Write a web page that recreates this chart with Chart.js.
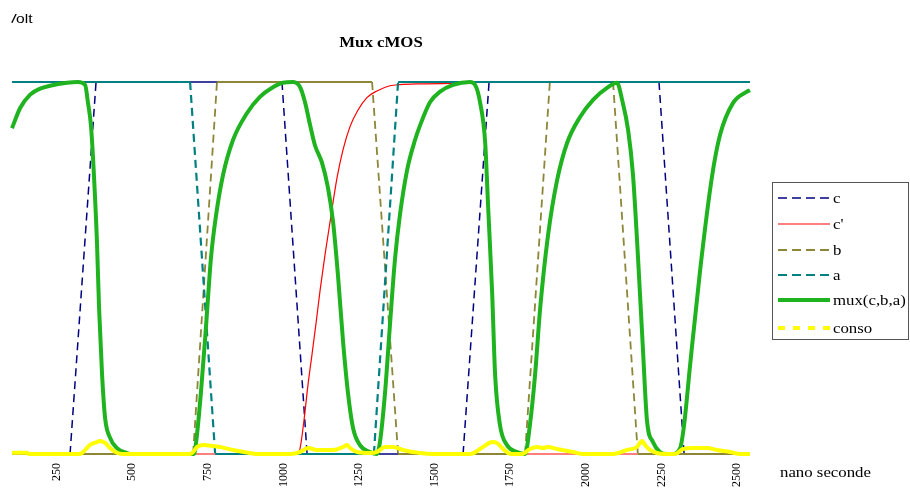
<!DOCTYPE html>
<html><head><meta charset="utf-8">
<script src="https://cdn.jsdelivr.net/npm/chart.js@4/dist/chart.umd.min.js"></script>
<style>html,body{margin:0;padding:0;background:#fff;}canvas{display:block;}</style>
</head><body>
<canvas id="chart" width="910" height="490"></canvas>
<script>
// ---- data (time in ns, value in volt) ----
const seriesNames = ["c", "c'", "b", "a", "mux(c,b,a)", "conso"];
const tickValues = [250, 500, 750, 1000, 1250, 1500, 1750, 2000, 2250, 2500];
const xMin = 102, xMax = 2543;

const cTime = [102, 294, 380, 995, 1078, 1594, 1680, 2242, 2325, 2543];
const cVolt = [0, 0, 5, 5, 0, 0, 5, 5, 0, 0];

const cpTime = [701, 1045, 1055, 1068, 1081, 1094, 1108, 1121, 1137, 1154, 1177, 1197, 1220, 1246, 1276, 1309, 1352, 1385, 1452, 1557, 1600, 1799, 2543];
const cpVolt = [0, 0, 0.08, 0.46, 0.93, 1.33, 1.77, 2.20, 2.67, 3.12, 3.71, 4.09, 4.40, 4.62, 4.79, 4.88, 4.95, 4.965, 4.975, 4.98, null, 0, 0];

const bTime = [102, 701, 780, 1293, 1379, 1799, 1881, 2090, 2172, 2543];
const bVolt = [0, 0, 5, 5, 0, 0, 5, 5, 0, 0];

const aTime = [102, 691, 774, 1299, 1379, 2543];
const aVolt = [5, 5, 0, 0, 5, 5];

const muxTime = [102, 129, 162, 195, 228, 284, 320, 344, 353, 363, 370, 383, 390, 400, 410, 426, 449, 482, 502,
  704, 711, 727, 744, 760, 777, 800, 833, 879, 922, 965, 998, 1032,
  1055, 1071, 1088, 1104, 1127, 1147, 1164, 1180, 1197, 1213, 1230, 1253, 1286, 1309,
  1319, 1336, 1352, 1369, 1385, 1409, 1435, 1452, 1485, 1518, 1561, 1617,
  1634, 1650, 1667, 1677, 1690, 1700, 1716, 1739, 1773, 1799,
  1815, 1832, 1849, 1875, 1905, 1938, 1981, 2024, 2070, 2103,
  2120, 2140, 2156, 2173, 2189, 2202, 2222, 2245, 2269,
  2285, 2312, 2325, 2345, 2378, 2417, 2444, 2487, 2533, 2543];
const muxVolt = [4.38, 4.65, 4.83, 4.91, 4.95, 4.99, 5.0, 4.96, 4.73, 4.42, 3.98, 2.85, 1.96, 1.06, 0.48, 0.22, 0.08, 0.013, 0,
  0, 0.16, 0.83, 1.73, 2.63, 3.21, 3.75, 4.22, 4.58, 4.80, 4.93, 4.99, 5.0,
  4.93, 4.73, 4.42, 4.15, 3.92, 3.58, 3.12, 2.41, 1.51, 0.83, 0.35, 0.12, 0.027, 0,
  0.16, 0.83, 1.73, 2.63, 3.21, 3.82, 4.22, 4.42, 4.73, 4.87, 4.96, 5.0,
  4.96, 4.73, 4.19, 3.31, 2.18, 1.06, 0.39, 0.12, 0.027, 0,
  0.39, 1.06, 1.96, 2.94, 3.68, 4.18, 4.53, 4.76, 4.92, 4.99,
  4.76, 4.35, 3.75, 2.61, 1.40, 0.46, 0.16, 0.027, 0,
  0, 0.08, 0.39, 1.20, 2.47, 3.72, 4.29, 4.72, 4.87, 4.89];

const consoTime = [102, 152, 158, 327, 337, 360, 383, 393, 410, 426, 449, 466,
  691, 698, 714, 734, 767, 790, 833, 889, 922,
  1022, 1055, 1081, 1111, 1164, 1197, 1210, 1220, 1243, 1286, 1309, 1336, 1362, 1395, 1452, 1495,
  1617, 1660, 1690, 1706, 1723, 1743, 1756,
  1789, 1815, 1839, 1858, 1875, 1905, 1958, 1991,
  2086, 2136, 2169, 2186, 2196, 2212, 2235, 2262,
  2295, 2321, 2354, 2401, 2434, 2477, 2510, 2543];
const consoVolt = [0.017, 0.017, 0, 0, 0.027, 0.121, 0.161, 0.175, 0.148, 0.081, 0.017, 0,
  0, 0.013, 0.094, 0.121, 0.108, 0.094, 0.054, 0.013, 0,
  0, 0.027, 0.081, 0.054, 0.054, 0.094, 0.121, 0.081, 0.027, 0.013, 0.027, 0.094, 0.094, 0.054, 0.013, 0,
  0, 0.094, 0.161, 0.148, 0.081, 0.013, 0,
  0, 0.067, 0.094, 0.081, 0.094, 0.067, 0.027, 0,
  0, 0.054, 0.094, 0.175, 0.121, 0.054, 0.013, 0,
  0, 0.067, 0.081, 0.081, 0.054, 0.027, 0, 0];

// ---- helpers ----
const pts = (t, v) => t.map((x, i) => ({ x: x, y: v[i] }));
const rampDash = dash => ({ borderDash: ctx => (ctx.p0.parsed.y !== ctx.p1.parsed.y ? dash : []) });

const datasets = [
  { label: seriesNames[0], data: pts(cTime, cVolt), borderColor: '#000080', borderWidth: 1.5, tension: 0,
    segment: rampDash([8, 5]), legendDash: [9, 5], order: 6, clip: false },
  { label: seriesNames[1], data: pts(cpTime, cpVolt), borderColor: '#ff0000', borderWidth: 1.2,
    cubicInterpolationMode: 'monotone', legendDash: [], order: 5, clip: false },
  { label: seriesNames[2], data: pts(bTime, bVolt), borderColor: '#8c8638', borderWidth: 1.8, tension: 0,
    segment: rampDash([8, 5]), legendDash: [9, 5], order: 4, clip: false },
  { label: seriesNames[3], data: pts(aTime, aVolt), borderColor: '#008080', borderWidth: 2.2, tension: 0,
    segment: rampDash([8, 5]), legendDash: [9, 5], order: 3, clip: false },
  { label: seriesNames[4], data: pts(muxTime, muxVolt), borderColor: '#1fb31f', borderWidth: 4,
    cubicInterpolationMode: 'monotone', legendDash: [], order: 2, clip: false },
  { label: seriesNames[5], data: pts(consoTime, consoVolt), borderColor: '#ffff00', borderWidth: 4,
    cubicInterpolationMode: 'monotone', legendDash: [7, 8], order: 1, clip: false }
];

function drawText(ctx, text, x, y, font, align, sx) {
  ctx.save();
  ctx.translate(x, y);
  ctx.scale(sx, 1);
  ctx.font = font;
  ctx.textAlign = align;
  ctx.textBaseline = 'alphabetic';
  ctx.fillStyle = '#000';
  ctx.fillText(text, 0, 0);
  ctx.restore();
}

const serif = '"Liberation Serif", "Times New Roman", serif';
const legendRows = [198, 224, 250, 275, 300, 328];

const decorPlugin = {
  id: 'decor',
  afterDraw(chart) {
    const ctx = chart.ctx;
    // axis title "Volt" (clipped on the left as in the reference)
    ctx.save();
    ctx.beginPath(); ctx.rect(11.5, 0, 120, 40); ctx.clip();
    drawText(ctx, 'Volt', 6.5, 23, '13px "Liberation Sans", Arial, sans-serif', 'left', 1.2);
    ctx.restore();
    // chart title
    drawText(ctx, 'Mux cMOS', 381, 47, 'bold 14px ' + serif, 'center', 1.2);
    // x axis title
    drawText(ctx, 'nano seconde', 780, 477, '14px ' + serif, 'left', 1.2);
    // legend
    ctx.save();
    ctx.strokeStyle = '#555';
    ctx.lineWidth = 1;
    ctx.strokeRect(772.5, 182.5, 136, 157);
    chart.data.datasets.forEach((ds, i) => {
      const y = legendRows[i];
      ctx.save();
      ctx.strokeStyle = ds.borderColor;
      ctx.lineWidth = ds.borderWidth;
      ctx.setLineDash(ds.legendDash || []);
      ctx.beginPath();
      ctx.moveTo(778, y);
      ctx.lineTo(830, y);
      ctx.stroke();
      ctx.restore();
      drawText(ctx, ds.label, 833, y + 5, '14px ' + serif, 'left', 1.2);
    });
    ctx.restore();
  }
};

new Chart(document.getElementById('chart'), {
  type: 'line',
  data: { datasets: datasets },
  options: {
    responsive: false,
    animation: false,
    devicePixelRatio: 1,
    layout: { padding: { left: 12, right: 160, top: 82, bottom: 0 } },
    elements: { point: { radius: 0, hoverRadius: 0 }, line: { fill: false } },
    plugins: { legend: { display: false }, title: { display: false }, tooltip: { enabled: false } },
    scales: {
      x: {
        type: 'linear', min: xMin, max: xMax,
        grid: { display: false, drawTicks: false },
        border: { display: false },
        afterBuildTicks: s => { s.ticks = tickValues.map(v => ({ value: v })); },
        afterFit: s => { s.height = 36; },
        ticks: {
          minRotation: 90, maxRotation: 90, padding: 9, autoSkip: false,
          color: '#000', font: { family: serif, size: 12 },
          callback: v => String(v)
        }
      },
      y: { display: false, min: 0, max: 5 }
    }
  },
  plugins: [decorPlugin]
});
</script>
</body></html>
